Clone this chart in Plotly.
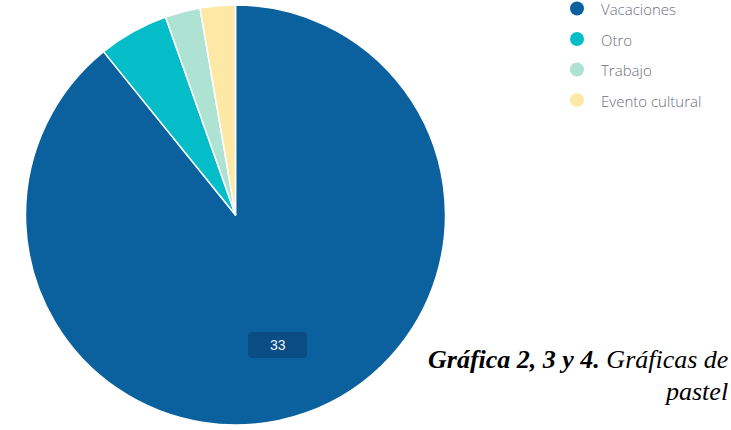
import plotly.graph_objects as go

# Motivo del viaje
labels = ["Vacaciones", "Otro", "Trabajo", "Evento cultural"]
values = [33, 2, 1, 1]
colors = ["#0b619e", "#04bdc8", "#aee3d3", "#fde8a6"]

W, H = 731, 430
cx, cy, r = 235.5, 215, 210

fig = go.Figure(
    go.Pie(
        labels=labels,
        values=values,
        sort=False,
        direction="clockwise",
        rotation=0,
        marker=dict(colors=colors, line=dict(color="white", width=1.5)),
        textinfo="none",
        hoverinfo="label+value",
        showlegend=False,
        domain=dict(
            x=[(cx - r) / W, (cx + r) / W],
            y=[(H - cy - r) / H, (H - cy + r) / H],
        ),
    )
)

shapes = []
annotations = []


def px(x):
    return x / W


def py(y):
    return 1 - y / H


# Custom legend: round markers with labels
lx, ly0, dy, rad = 577, 8.5, 30.5, 7
for i, (lab, col) in enumerate(zip(labels, colors)):
    y = ly0 + i * dy
    shapes.append(dict(
        type="circle", xref="paper", yref="paper",
        x0=px(lx - rad), x1=px(lx + rad),
        y0=py(y + rad), y1=py(y - rad),
        fillcolor=col, line=dict(width=0),
    ))
    annotations.append(dict(
        x=px(lx + 22), y=py(y + 0.5), xref="paper", yref="paper",
        text=lab, showarrow=False, xanchor="left", yanchor="middle",
        font=dict(family="Open Sans", size=15, weight=300, color="#6e6e80"),
    ))

# Value tag on the main slice (rounded box)
bx0, bx1, by0, by1, rr = 248, 307, 332, 358, 4
path = (
    f"M {px(bx0 + rr)} {py(by0)} L {px(bx1 - rr)} {py(by0)} "
    f"Q {px(bx1)} {py(by0)} {px(bx1)} {py(by0 + rr)} "
    f"L {px(bx1)} {py(by1 - rr)} Q {px(bx1)} {py(by1)} {px(bx1 - rr)} {py(by1)} "
    f"L {px(bx0 + rr)} {py(by1)} Q {px(bx0)} {py(by1)} {px(bx0)} {py(by1 - rr)} "
    f"L {px(bx0)} {py(by0 + rr)} Q {px(bx0)} {py(by0)} {px(bx0 + rr)} {py(by0)} Z"
)
shapes.append(dict(type="path", xref="paper", yref="paper", path=path,
                   fillcolor="#0a4d84", line=dict(width=0)))
annotations.append(dict(
    x=px((bx0 + bx1) / 2), y=py((by0 + by1) / 2), xref="paper", yref="paper",
    text=str(values[0]), showarrow=False, xanchor="center", yanchor="middle",
    font=dict(family="Arial, Liberation Sans", size=14, color="#e8eef5"),
))

# Caption, two right-aligned lines
cap_font = dict(family="Liberation Serif, Times New Roman", size=26, color="black")
annotations.append(dict(
    x=px(729), y=py(359), xref="paper", yref="paper",
    text="<b><i>Gráfica 2, 3 y 4.</i></b><i> Gráficas de</i>",
    showarrow=False, xanchor="right", yanchor="middle", font=cap_font,
    borderpad=0,
))
annotations.append(dict(
    x=px(729), y=py(391), xref="paper", yref="paper",
    text="<i>pastel</i>",
    showarrow=False, xanchor="right", yanchor="middle", font=cap_font,
    borderpad=0,
))

fig.update_layout(
    width=W, height=H,
    margin=dict(l=0, r=0, t=0, b=0),
    paper_bgcolor="white", plot_bgcolor="white",
    shapes=shapes, annotations=annotations,
)

fig.write_html("out.html")
